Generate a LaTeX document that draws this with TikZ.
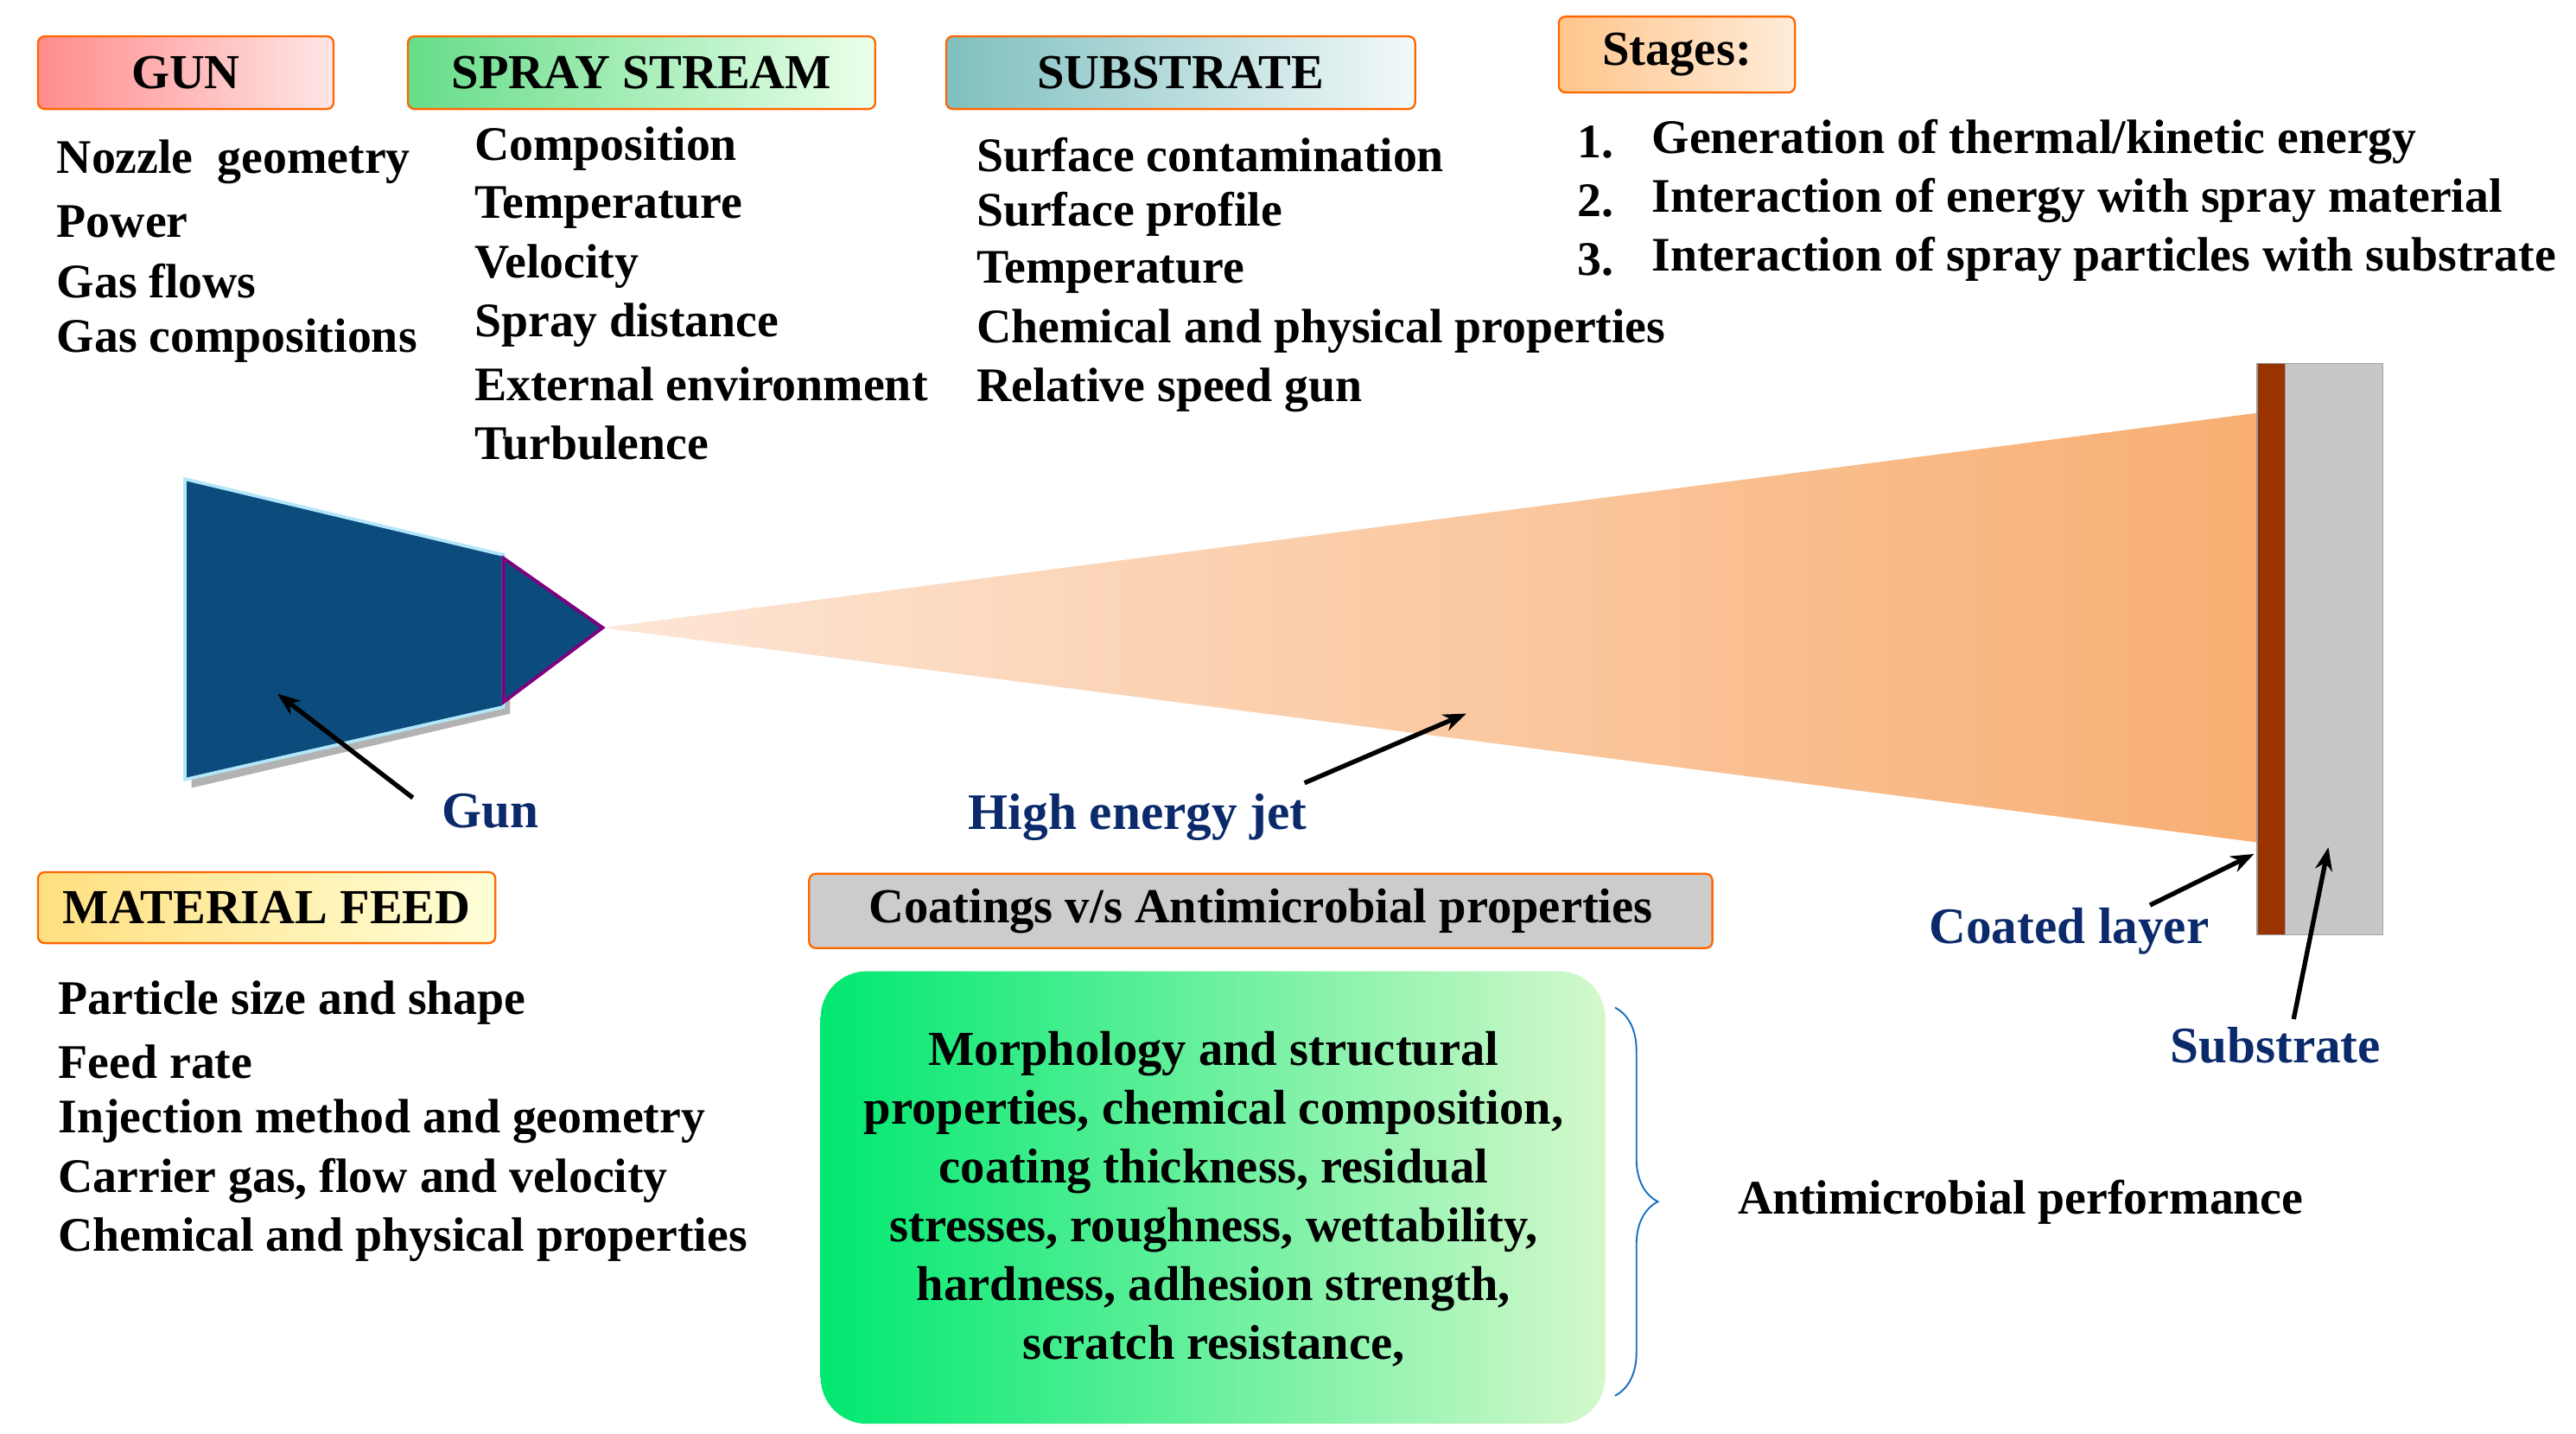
\documentclass[tikz,border=0pt]{standalone}
\usepackage{fontspec}
\setmainfont{Liberation Serif}
\usetikzlibrary{decorations.pathreplacing,arrows.meta}
\definecolor{navy}{HTML}{0B2A6B}
\definecolor{gunblue}{HTML}{0B4C7C}
\definecolor{jetend}{HTML}{F8AE72}
\definecolor{jetstart}{HTML}{FDE6D6}
\definecolor{brownl}{HTML}{993300}
\definecolor{gleft}{HTML}{00E870}
\definecolor{gright}{HTML}{D4F8CC}
\begin{document}
\begin{tikzpicture}[x=0.5pt,y=-0.5pt,font=\bfseries\fontsize{14.6}{17}\selectfont,
 hdr/.style={draw=orange!80!red,line width=0.6pt,rounded corners=2pt,inner sep=0pt,font=\bfseries\fontsize{14.8}{18}\selectfont},
 lst/.style={anchor=west,align=left,inner sep=0pt},
 lab/.style={text=navy,font=\bfseries\fontsize{15.5}{18}\selectfont},
 arr/.style={-{Stealth[length=7pt]},line width=1.4pt}]
\useasboundingbox (0,0) rectangle (1560,868);
% header boxes
\node[hdr,minimum width=89.5pt,minimum height=22pt,left color=red!45,right color=red!10] (gun) at (112.5,44) {GUN};
\node[hdr,minimum width=141.5pt,minimum height=22pt,left color=green!55!teal!60,right color=green!8] (ss) at (388.5,44) {SPRAY STREAM};
\node[hdr,minimum width=142pt,minimum height=22pt,left color=teal!50,right color=teal!5] (sub) at (715,44) {SUBSTRATE};
\node[hdr,minimum width=71.5pt,minimum height=23pt,left color=orange!45,right color=orange!15] (st) at (1015.5,33) {Stages:};
\node[hdr,minimum width=138.5pt,minimum height=21.5pt,left color=yellow!50!orange!50,right color=yellow!15] (mf) at (161.5,549.5) {MATERIAL FEED};
\node[hdr,minimum width=273.5pt,minimum height=22.5pt,fill=black!20] (cv) at (763.5,551.5) {Coatings v/s Antimicrobial properties};
% lists
\foreach \t [count=\i] in {Nozzle\ \ geometry,Power,Gas flows,Gas compositions}
 \node[lst] (g\i) at (34,62+36*\i) {\t};
\foreach \t [count=\i] in {Composition,Temperature,Velocity,Spray distance,External environment,Turbulence}
 \node[lst] (s\i) at (287,54.5+35.6*\i) {\t};
\foreach \t [count=\i] in {Surface contamination,Surface profile,Temperature,Chemical and physical properties,Relative speed gun}
 \node[lst] (b\i) at (591,58.5+35.5*\i) {\t};
\foreach \t [count=\i] in {Generation of thermal/kinetic energy,Interaction of energy with spray material,Interaction of spray particles with substrate}{
 \node[lst] (n\i) at (955,50.5+35.5*\i) {\i.};
 \node[lst] (t\i) at (1000,50.5+35.5*\i) {\t};}
\foreach \t [count=\i] in {Particle size and shape,Feed rate,Injection method and geometry,{Carrier gas, flow and velocity},Chemical and physical properties}
 \node[lst] (m\i) at (35,571.5+35.8*\i) {\t};
% jet
\shade[left color=jetstart,right color=jetend] (365,380) -- (1367,250) -- (1367,510) -- cycle;
% gun
\fill[black!30] (116,295) -- (309,341) -- (309,432) -- (116,477) -- cycle;
\fill[gunblue,draw=cyan!30,line width=1pt] (112,290) -- (305,336) -- (305,428) -- (112,472) -- cycle;
\fill[gunblue,draw=violet,line width=1pt] (305,338) -- (365,380) -- (305,425) -- cycle;
% substrate
\fill[black!22,draw=black!35] (1384,220) rectangle (1443,566);
\fill[brownl,draw=black!40] (1367,220) rectangle (1384,566);
\coordinate (cl) at (1365,517);
\coordinate (sb) at (1410,513);
\coordinate (jt) at (888,432);
\coordinate (gt) at (168,420);
% labels and arrows
\node[lab] (lg) at (297,491) {Gun};
\node[lab] (lj) at (689,495) {High energy jet};
\node[lab] (lc) at (1253,564) {Coated layer};
\node[lab] (ls) at (1378,633) {Substrate};
\draw[arr] (250,483) -- (gt);
\draw[arr] (790,474) -- (jt);
\draw[arr] (1302,548) -- (cl);
\draw[arr] (1389,617) -- (sb);
% green box
\node[rounded corners=14pt,minimum width=237.5pt,minimum height=137pt,left color=gleft,right color=gright,inner sep=0pt] (gb) at (734.5,725) {};
\node[align=center,font=\bfseries\fontsize{14.8}{17.8}\selectfont] (gt2) at (735,726) {Morphology and structural\\properties, chemical composition,\\coating thickness, residual\\stresses, roughness, wettability,\\hardness, adhesion strength,\\scratch resistance,};
\draw[cyan!50!blue,line width=0.5pt,decorate,decoration={brace,amplitude=13pt,aspect=0.5}] (978,610) -- (978,845);
\coordinate (bt) at (1030,727);
\node[lst] (ap) at (1052,728) {Antimicrobial performance};
\end{tikzpicture}
\end{document}
